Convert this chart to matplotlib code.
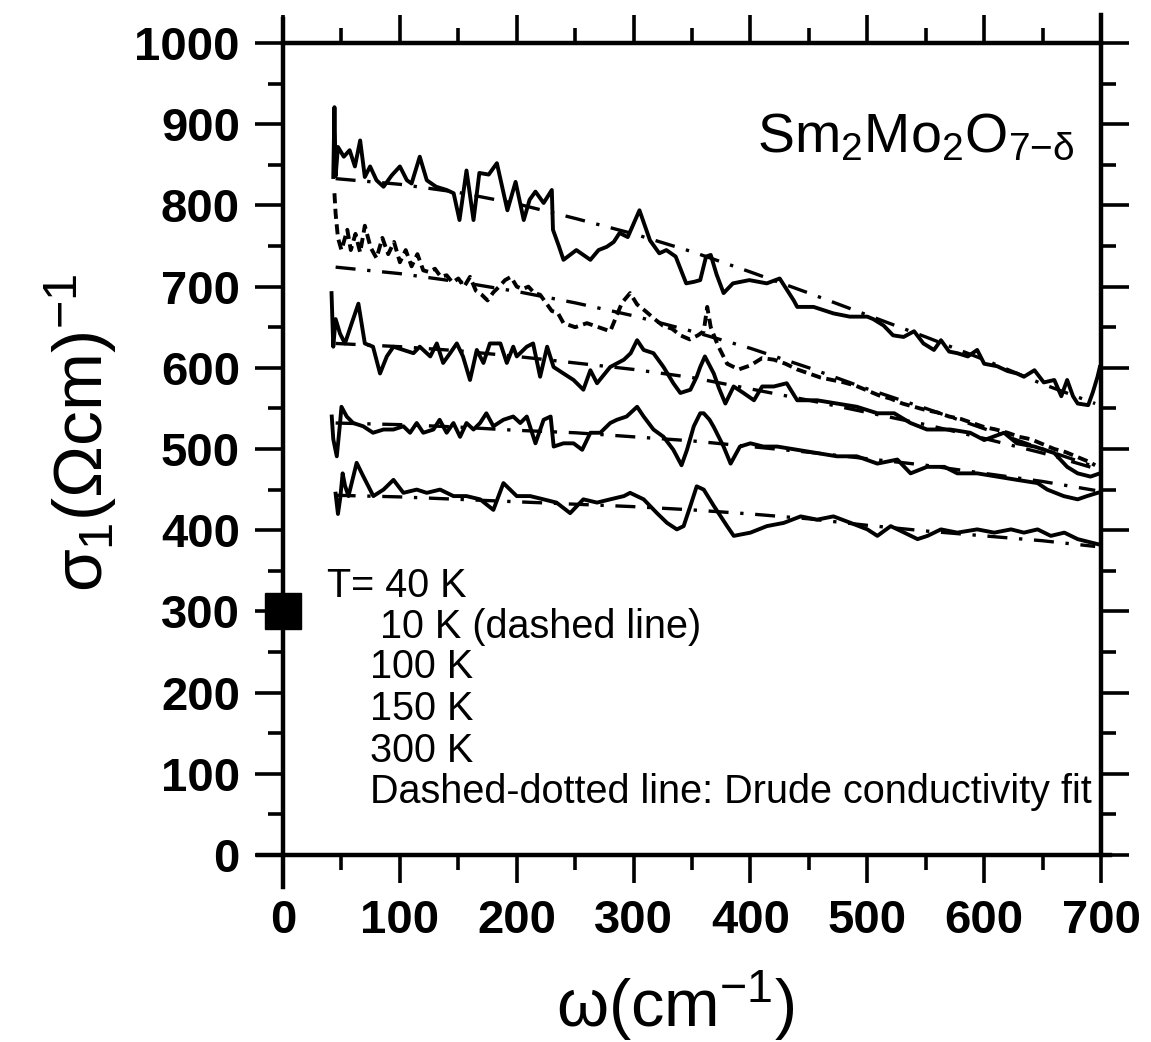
import numpy as np
import matplotlib.pyplot as plt
from matplotlib.ticker import MultipleLocator

plt.rcParams['font.family'] = ['Liberation Sans', 'DejaVu Sans']
plt.rcParams['mathtext.fontset'] = 'custom'
plt.rcParams['mathtext.rm'] = 'Liberation Sans'
plt.rcParams['mathtext.it'] = 'Liberation Sans'
plt.rcParams['mathtext.bf'] = 'Liberation Sans:bold'

# 40 K
w_40 = [43, 44, 45, 47, 52, 57, 61.5, 66, 70, 74.5, 80, 86, 93, 100, 106, 110, 117, 123, 131, 140,
        146, 151, 157, 163, 168, 176, 183, 192, 199, 206, 211, 216, 223, 230, 231, 236, 240, 251,
        263, 270, 277, 283, 288, 295, 305, 314, 322, 328, 336, 345, 352, 357, 362, 366, 371, 377,
        385, 399, 414, 425, 437, 440, 454, 471, 485, 500, 505, 514, 522, 531, 540, 548, 557, 563,
        570, 577, 586, 594, 600, 611, 620, 628, 634, 643, 651, 660, 666, 671, 676, 680, 689, 693,
        697, 699]
s_40 = [835, 921, 836, 872, 860, 868, 848, 880, 835, 848, 831, 823, 837, 848, 831, 827, 860, 831, 823, 819,
        815, 782, 843, 782, 840, 838, 852, 794, 829, 782, 807, 817, 803, 819, 770, 750, 733, 745,
        733, 745, 749, 755, 766, 761, 794, 757, 741, 745, 737, 704, 706, 708, 737, 739, 715, 692,
        704, 708, 704, 710, 683, 675, 675, 667, 663, 663, 660, 652, 640, 638, 645, 630, 622, 634,
        620, 618, 614, 622, 605, 602, 596, 593, 589, 597, 582, 585, 565, 585, 565, 556, 554, 570,
        589, 601]

# 10 K (dashed)
w_10 = [44, 45, 47, 50, 55, 58, 62, 66, 70, 75, 80, 85, 90, 95, 100, 105, 110, 115, 120, 125, 130,
        135, 140, 145, 150, 155, 160, 165, 170, 175, 180, 185, 190, 195, 200, 205, 210, 215, 220,
        225, 230, 235, 240, 250, 260, 270, 280, 290, 297, 303, 310, 318, 325, 333, 340, 348, 355,
        360, 363, 366, 372, 380, 390, 400, 410, 420, 430, 440, 450, 460, 470, 480, 490, 500, 510,
        520, 530, 540, 550, 560, 570, 580, 590, 600, 610, 620, 630, 640, 650, 660, 670, 680, 690, 695]
s_10 = [815, 790, 760, 745, 770, 745, 765, 742, 775, 748, 735, 760, 740, 755, 730, 745, 725, 740, 720, 718, 722,
        712, 714, 705, 710, 700, 712, 695, 690, 683, 693, 700, 708, 712, 700, 697, 700, 692, 690,
        680, 670, 668, 655, 650, 655, 650, 645, 680, 692, 678, 670, 660, 652, 648, 640, 635, 640,
        645, 675, 650, 628, 605, 598, 603, 612, 610, 605, 598, 593, 588, 585, 582, 578, 572, 566,
        562, 556, 552, 548, 545, 540, 537, 532, 527, 524, 520, 515, 512, 506, 500, 496, 490, 484, 480]

# 100 K
w_100 = [41.5, 43, 45, 48.8, 53, 58.8, 64.5, 70, 77, 83, 88.8, 94.5, 103, 111.6, 117, 126, 131.6, 137,
         143, 148.7, 154, 160, 165.8, 171.5, 177, 186, 191.5, 197, 200, 208.6, 214, 220, 226, 231.5,
         240, 248.6, 257, 263, 268.7, 280, 291.7, 297.5, 303, 308.6, 317, 325.6, 334, 340, 348.6, 354,
         357, 361, 368.6, 373, 378.5, 385.6, 394, 403, 410, 420, 431, 440, 457, 474, 491, 508.6, 523,
         537, 551, 571, 588, 600, 617, 628, 643, 660, 671, 680, 691, 699]
s_100 = [692, 626, 660, 642, 630, 655, 679, 630, 626, 593, 614, 626, 622, 618, 626, 614, 630, 606,
         618, 630, 614, 585, 622, 606, 630, 630, 606, 626, 614, 626, 630, 589, 626, 601,
         593, 585, 573, 597, 581, 601, 610, 618, 634, 622, 618, 601, 581, 569, 573, 589,
         601, 614, 593, 575, 556, 577, 569, 560, 577, 577, 581, 560, 560, 556, 552, 544, 544,
         532, 524, 524, 520, 511, 520, 507, 503, 495, 478, 470, 466, 470]

# 150 K
w_150 = [41.7, 43, 46, 48.8, 50, 54.5, 60, 68.6, 77, 86, 94.5, 103, 108.7, 114.4, 120, 128.7, 134, 140,
         145.8, 151.5, 157, 163, 168.6, 174, 180, 188.6, 197, 203, 208.6, 216, 223, 229, 231.6, 240,
         248.6, 256, 263, 271.5, 280, 285.7, 294, 303, 308.6, 317, 325.6, 334, 341, 345.7, 351.5, 357,
         360, 365, 368.6, 377, 383, 391, 400, 411, 423, 440, 457, 474, 491, 508.6, 525.7, 537, 551,
         566, 577, 594, 611, 628, 645.7, 654, 668, 680, 688, 697]
s_150 = [540, 512, 491, 532, 552, 540, 532, 528, 520, 524, 524, 528, 520, 532, 520, 524, 536, 520,
         532, 515, 532, 524, 532, 544, 528, 536, 540, 532, 540, 507, 536, 540, 503, 507,
         507, 499, 520, 520, 532, 536, 540, 552, 540, 524, 515, 499, 480, 499, 528, 544,
         544, 536, 527, 503, 482, 503, 507, 503, 503, 499, 495, 491, 491, 482, 487, 470, 478,
         478, 470, 470, 466, 462, 458, 450, 442, 438, 442, 446]

# 300 K
w_300 = [45, 47, 49, 51, 53, 56, 63, 68.8, 77.3, 86, 94.5, 103, 114.4, 123, 134.4, 145.8, 157, 168.6,
         180, 188.6, 200, 211.5, 222.9, 234, 245.7, 257, 268.7, 280, 291.7, 297, 308.6, 320, 328.6,
         337, 342.8, 348.6, 354, 360, 368.6, 380, 385.7, 400, 414, 428.5, 443, 457, 471, 485.7, 500,
         508.6, 520, 531.6, 543, 551.5, 563, 577, 594, 608.6, 623, 634, 645.7, 657, 668.6, 680, 691,
         699.5]
s_300 = [445, 420, 440, 470, 455, 442, 483, 466, 442, 450, 462, 446, 450, 446, 450, 442, 442, 438,
         425, 458, 442, 442, 438, 434, 421, 438, 434, 438, 442, 446, 438, 421, 409,
         401, 405, 430, 454, 450, 430, 405, 393, 397, 405, 409, 417, 413, 417, 409, 401,
         393, 405, 397, 389, 393, 401, 397, 401, 397, 401, 397, 401, 393, 397, 389, 385,
         382]

# Drude fits (dash-dotted)
w_fit = [45, 100, 150, 200, 250, 300, 350, 400, 450, 500, 550, 600, 650, 695]
fit_40 = [833, 826, 816, 802, 784, 765, 743, 718, 692, 665, 638, 610, 580, 556]
fit_10 = [724, 716, 706, 694, 680, 664, 645, 624, 600, 574, 550, 525, 500, 478]
fit_100 = [630, 626, 621, 614, 606, 598, 588, 574, 560, 545, 530, 513, 495, 476]
fit_150 = [532, 530, 527, 523, 520, 515, 510, 503, 496, 488, 480, 470, 460, 449]
fit_300 = [443, 441, 438, 435, 432, 429, 425, 420, 414, 406, 399, 393, 387, 380]

legend_lines = ['T= 40 K', '10 K (dashed line)', '100 K', '150 K', '300 K',
                'Dashed-dotted line: Drude conductivity fit']

fig = plt.figure(figsize=(11.51, 10.42), dpi=100)
ax = fig.add_axes([0.2459, 0.1795, 0.7107, 0.7792])

lw = 2.8
for w, s in [(w_40, s_40), (w_100, s_100), (w_150, s_150), (w_300, s_300)]:
    ax.plot(w, s, color='black', lw=lw)
ax.plot(w_10, s_10, color='black', lw=lw, linestyle=(0, (2.6, 1.4)))
for f in [fit_40, fit_10, fit_100, fit_150, fit_300]:
    ax.plot(w_fit, f, color='black', lw=2.4, linestyle=(0, (6, 3.5, 1, 3.5)))

ax.plot(0, 300, 's', ms=26, color='black', clip_on=False, zorder=5)

ax.set_xlim(0, 700)
ax.set_ylim(0, 1000)
ax.xaxis.set_major_locator(MultipleLocator(100))
ax.xaxis.set_minor_locator(MultipleLocator(50))
ax.yaxis.set_major_locator(MultipleLocator(100))
ax.yaxis.set_minor_locator(MultipleLocator(50))

for sp in ax.spines.values():
    sp.set_linewidth(3.2)
ax.spines['left'].set_bounds(-39, 1030)
ax.spines['bottom'].set_bounds(-21, 708)
ax.spines['right'].set_bounds(0, 1035)

ax.tick_params(axis='both', which='both', direction='out', top=True, right=True, width=2.6)
ax.tick_params(axis='x', which='major', length=20, pad=12)
ax.tick_params(axis='x', which='minor', length=11)
ax.tick_params(axis='y', which='major', length=20, pad=11)
ax.tick_params(axis='y', which='minor', length=11)

for lab in ax.get_xticklabels() + ax.get_yticklabels():
    lab.set_fontweight('bold')
    lab.set_fontsize(34)

ax.set_xlabel(r'$\omega(\mathrm{cm}^{-1})$', fontsize=48)
ax.xaxis.set_label_coords(0.479, -0.14)
ax.set_ylabel(r'$\sigma_1(\Omega\mathrm{cm})^{-1}$', fontsize=50)
ax.yaxis.set_label_coords(-0.2, 0.52)

ax.text(405.6, 866, r'Sm$_2$Mo$_2$O$_{7\mathrm{-}\delta}$', fontsize=40, ha='left', va='baseline')

leg_x = [37.7, 83, 74.5, 74.5, 74.5, 74.5]
leg_y = [317.7, 267, 218, 166, 114.5, 64]
for t, lx, ly in zip(legend_lines, leg_x, leg_y):
    ax.text(lx, ly, t, fontsize=28.5, ha='left', va='baseline')

plt.savefig('out.png', dpi=100)
